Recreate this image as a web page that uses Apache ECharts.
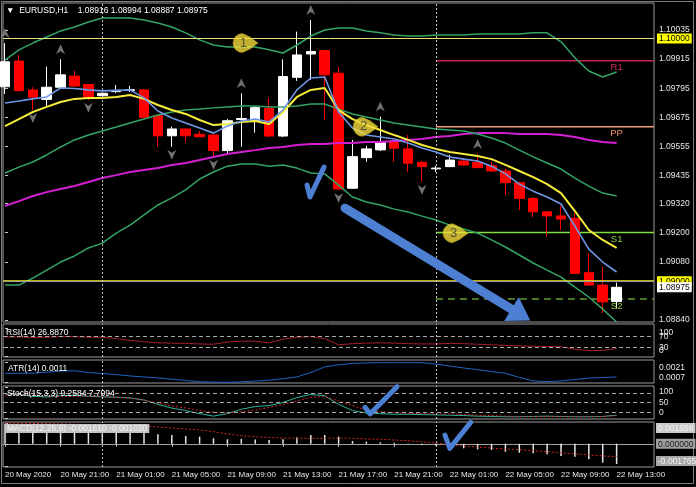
<!DOCTYPE html>
<html><head><meta charset="utf-8">
<script src="https://cdn.jsdelivr.net/npm/echarts@6/dist/echarts.min.js"></script>
<style>html,body{margin:0;padding:0;background:#000;}#c{width:696px;height:487px;}</style>
</head><body><div id="c"></div>
<script>
// ---------------- data ----------------
const symbolName = 'EURUSD,H1';
const timeLabels = ['20 May 2020','20 May 21:00','21 May 01:00','21 May 05:00','21 May 09:00','21 May 13:00','21 May 17:00','21 May 21:00','22 May 01:00','22 May 05:00','22 May 09:00','22 May 13:00'];
const timeLabelIndex = [0,4,8,12,16,20,24,28,32,36,40,44];

const open  = [1.09801,1.09907,1.09788,1.09749,1.09799,1.09845,1.09810,1.09764,1.09781,1.09786,1.09788,1.09682,1.09599,1.09627,1.09605,1.09602,1.09538,1.09666,1.09661,1.09712,1.09598,1.09840,1.09936,1.09950,1.09857,1.09383,1.09509,1.09541,1.09575,1.09545,1.09490,1.09463,1.09472,1.09495,1.09490,1.09476,1.09454,1.09406,1.09341,1.09286,1.09269,1.09259,1.09035,1.08984,1.08916];
const high  = [1.09981,1.09932,1.09799,1.09884,1.09914,1.09867,1.09812,1.09775,1.09808,1.09804,1.09792,1.09685,1.09637,1.09631,1.09619,1.09606,1.09668,1.09774,1.09722,1.09756,1.09914,1.10028,1.10076,1.09953,1.09884,1.09582,1.09557,1.09678,1.09578,1.09602,1.09495,1.09475,1.09520,1.09508,1.09524,1.09492,1.09462,1.09409,1.09347,1.09289,1.09310,1.09281,1.09115,1.09060,1.08994];
const low   = [1.09771,1.09780,1.09705,1.09722,1.09796,1.09800,1.09747,1.09763,1.09775,1.09780,1.09672,1.09554,1.09554,1.09575,1.09594,1.09513,1.09520,1.09554,1.09612,1.09594,1.09594,1.09825,1.09829,1.09664,1.09376,1.09380,1.09492,1.09536,1.09492,1.09451,1.09410,1.09450,1.09470,1.09475,1.09466,1.09450,1.09355,1.09293,1.09263,1.09181,1.09211,1.09030,1.08980,1.08868,1.08887];
const close = [1.09904,1.09785,1.09758,1.09799,1.09850,1.09804,1.09758,1.09774,1.09784,1.09789,1.09675,1.09599,1.09627,1.09599,1.09595,1.09538,1.09661,1.09670,1.09715,1.09598,1.09843,1.09932,1.09946,1.09850,1.09380,1.09513,1.09545,1.09575,1.09548,1.09486,1.09472,1.09466,1.09499,1.09479,1.09468,1.09454,1.09406,1.09341,1.09286,1.09269,1.09256,1.09032,1.08984,1.08915,1.08975];

const maFast = [1.09734,1.09742,1.09751,1.09759,1.09796,1.09794,1.09788,1.09784,1.09786,1.09788,1.09755,1.09701,1.09672,1.09652,1.09631,1.09610,1.09639,1.09660,1.09668,1.09656,1.09705,1.09788,1.09837,1.09841,1.09697,1.09631,1.09602,1.09594,1.09586,1.09569,1.09549,1.09532,1.09512,1.09503,1.09495,1.09474,1.09442,1.09400,1.09371,1.09347,1.09318,1.09227,1.09132,1.09079,1.09038];
const maSlow = [1.09639,1.09668,1.09697,1.09718,1.09738,1.09751,1.09755,1.09755,1.09759,1.09767,1.09751,1.09726,1.09705,1.09689,1.09664,1.09643,1.09648,1.09656,1.09660,1.09648,1.09697,1.09759,1.09788,1.09796,1.09705,1.09668,1.09643,1.09623,1.09602,1.09582,1.09561,1.09545,1.09532,1.09524,1.09516,1.09503,1.09479,1.09454,1.09429,1.09400,1.09363,1.09289,1.09211,1.09170,1.09137];
const bbUpper = [1.09911,1.09953,1.09981,1.10006,1.10031,1.10047,1.10068,1.10084,1.10084,1.10084,1.10076,1.10064,1.10047,1.10023,1.09994,1.09973,1.09965,1.09965,1.09965,1.09953,1.09940,1.09973,1.10010,1.10035,1.10043,1.10043,1.10031,1.10023,1.10014,1.10010,1.10010,1.10014,1.10014,1.10014,1.10018,1.10018,1.10018,1.10018,1.10023,1.10023,1.09986,1.09920,1.09866,1.09841,1.09862];
const bbMiddle = [1.09446,1.09470,1.09491,1.09520,1.09553,1.09582,1.09602,1.09619,1.09635,1.09652,1.09668,1.09685,1.09697,1.09705,1.09709,1.09714,1.09718,1.09722,1.09722,1.09718,1.09718,1.09722,1.09730,1.09730,1.09709,1.09689,1.09676,1.09664,1.09652,1.09643,1.09635,1.09627,1.09623,1.09619,1.09606,1.09590,1.09569,1.09540,1.09512,1.09487,1.09462,1.09425,1.09392,1.09363,1.09351];
const bbLower = [1.08984,1.08984,1.09013,1.09046,1.09079,1.09104,1.09137,1.09157,1.09198,1.09231,1.09273,1.09314,1.09343,1.09376,1.09421,1.09450,1.09474,1.09483,1.09483,1.09474,1.09479,1.09466,1.09446,1.09442,1.09396,1.09347,1.09326,1.09314,1.09297,1.09285,1.09268,1.09252,1.09231,1.09215,1.09198,1.09170,1.09141,1.09108,1.09075,1.09046,1.09017,1.08976,1.08935,1.08885,1.08832];
const maLong = [1.09310,1.09330,1.09351,1.09367,1.09380,1.09392,1.09409,1.09425,1.09437,1.09450,1.09458,1.09466,1.09479,1.09487,1.09499,1.09512,1.09524,1.09532,1.09540,1.09549,1.09553,1.09561,1.09565,1.09565,1.09569,1.09569,1.09573,1.09573,1.09578,1.09582,1.09586,1.09594,1.09598,1.09606,1.09610,1.09610,1.09610,1.09606,1.09606,1.09606,1.09602,1.09594,1.09582,1.09573,1.09569];

const rsi = [68,68,66,67,69,69,67,67,62,56,51,47,46,45,43,42,50,53,53,47,60,67,69,62,40,44,46,47,46,44,43,43,45,44,42,40,38,36,35,34,33,24,19,20,26.887];
const atr = [0.00134,0.00134,0.00135,0.00142,0.0015,0.00152,0.0014,0.00133,0.00125,0.00115,0.00108,0.00101,0.00092,0.00083,0.00074,0.00071,0.0007,0.00073,0.00079,0.00085,0.00095,0.00108,0.0014,0.0018,0.00195,0.00205,0.00208,0.0021,0.0021,0.0021,0.0021,0.002,0.00186,0.00172,0.0016,0.00147,0.00134,0.00105,0.0008,0.00074,0.0008,0.0009,0.001,0.00104,0.00108];
const stochMain = [78,76,70,68,72,73,70,68,67,65,58,44,32,24,14,6,14,28,37,40,50,66,76,72,44,24,16,14,12,12,11,10,9,8,6,5,4,4,5,6,5,4,4,5,9.2584];
const stochSignal = [74,75,74,71,70,70,71,70,67,64,58,48,39,32,24,18,17,20,26,34,44,55,67,69,55,40,26,20,17,15,14,13,13,11,9,8,6,5,5,5,5,5,5,5,7.7094];
const macdMain = [0.0016,0.00155,0.00148,0.00142,0.0014,0.00136,0.00128,0.0012,0.00112,0.00104,0.0009,0.00076,0.0007,0.00062,0.00057,0.00044,0.00036,0.00038,0.00034,0.0003,0.00036,0.00052,0.0007,0.0007,0.00057,0.00022,0.00017,0.00012,0.00009,-0.00002,-0.0001,-0.00015,-0.00023,-0.00036,-0.00044,-0.00049,-0.00063,-0.00071,-0.00076,-0.00084,-0.00097,-0.00103,-0.00123,-0.0015,-0.00161];
const macdSignal = [0.00165,0.00164,0.00162,0.0016,0.00158,0.00156,0.00153,0.0015,0.00148,0.00145,0.00142,0.00134,0.00126,0.00118,0.0011,0.00097,0.00078,0.00065,0.00056,0.0005,0.00046,0.00044,0.00044,0.00044,0.00045,0.00044,0.00038,0.00036,0.0003,0.00025,0.00016,0.00006,-0.00008,-0.00018,-0.00026,-0.00034,-0.00042,-0.00046,-0.00055,-0.00063,-0.00072,-0.00081,-0.00088,-0.00096,-0.00102];

const fractalUpIdx = [0,4,17,22,27,34];
const fractalDownIdx = [2,6,12,15,24,30];

const pivotNames = ['R1','PP','S1','S2'];
const pivotValues = [1.09908,1.09636,1.09201,1.08927];
const pivotStart = 31;
const roundLevels = [1.10000,1.09000];
const daySeparators = [7,31];

const priceTicks = [1.10035,1.09915,1.09795,1.09675,1.09555,1.09435,1.09320,1.09200,1.09080,1.08840];
const rsiTicks = [100,70,30,0];
const rsiLevels = [70,30];
const atrTicks = [0.0021,0.0007];
const stochTicks = [100,50,0];
const stochLevels = [80,50,20];
const macdTicks = [0.001658,0,-0.001765];

const calloutLabels = ['1','2','3'];
const calloutIdx = [17.30,25.94,32.41];
const calloutPrice = [1.09981,1.09636,1.09198];
const trendArrow = [[24.46,1.09301],[37.05,1.08864]];
const checkMain = [[21.73,1.09396],[21.94,1.09347],[22.95,1.09470]];
const checkStoch = [[25.9,34.5],[26.26,13],[28.2,101]];
const checkMacd = [[31.65,0.0007],[32.0,-0.00036],[33.5,0.00171]];

// ---------------- chart ----------------
const FONT = "'Liberation Sans', Arial, 'DejaVu Sans', sans-serif";
const XMIN = -0.144, XMAX = 46.69;
const last = close.length - 1;
const lastClose = close[last];
const pts = arr => arr.map((v, i) => [i, v]);
const near = (a, b) => Math.abs(a - b) < 1e-9;

const gridDefs = [[3,319],[324,33],[360,23],[386,33],[422,45]];
const grid = gridDefs.map(g => ({left:3, right:42, top:g[0], height:g[1], show:true, borderColor:'#9a9a9a', borderWidth:1, backgroundColor:'transparent', outerBoundsMode:'none', containLabel:false}));

const xAxis = gridDefs.map((g, k) => ({gridIndex:k, type:'value', min:XMIN, max:XMAX,
  axisLine:{show:false}, axisTick:{show:false}, axisLabel:{show:false}, splitLine:{show:false}}));
Object.assign(xAxis[4], {
  axisLine:{show:true, lineStyle:{color:'#a0a0a0'}},
  axisTick:{show:true, customValues:timeLabelIndex, length:3, lineStyle:{color:'#d0d0d0'}},
  axisLabel:{show:true, customValues:timeLabelIndex, align:'left', margin:4, color:'#e8e8e8', fontSize:8, fontFamily:FONT, hideOverlap:false,
    formatter: v => timeLabels[timeLabelIndex.indexOf(Math.round(v))]}
});

const lblBase = {color:'#e6e6e6', fontSize:8.5, fontFamily:FONT, margin:5, lineHeight:10, hideOverlap:false};
function yAx(k, min, max, ticks, labels, fmt, extra) {
  return {gridIndex:k, type:'value', position:'right', offset:0, min:min, max:max,
    axisLine:{show:false}, splitLine:{show:false},
    axisTick:{show: ticks.length > 0, customValues:ticks, length:3, lineStyle:{color:'#c8c8c8'}},
    axisLabel:Object.assign({customValues:labels, formatter:fmt}, lblBase, extra || {})};
}
const shiftFmt = (digits, maxV, minV) => v => {
  const s = v.toFixed(digits);
  if (near(v, maxV)) return '\n' + s;
  if (near(v, minV)) return s + '\n';
  return s;
};
const PMIN = 1.08832, PMAX = 1.10146;
const priceRich = {
  n:{color:'#e6e6e6', fontSize:8.5, fontFamily:FONT, padding:[0,2]},
  y:{color:'#000', backgroundColor:'#ffff00', fontSize:8.5, fontFamily:FONT, padding:[1,2,0,2]},
  w:{color:'#000', backgroundColor:'#ffffff', fontSize:8.5, fontFamily:FONT, padding:[1,2,0,2]}
};
const priceFmt = v => {
  const s = v.toFixed(5);
  if (roundLevels.some(l => near(l, v))) return '{y|' + s + '}';
  if (near(v, lastClose)) return '{w|' + s + '}';
  return '{n|' + s + '}';
};
const yAxis = [
  yAx(0, PMIN, PMAX, priceTicks, priceTicks.concat(roundLevels), priceFmt, {margin:3, rich:priceRich, lineHeight:null}),
  yAx(1, -3.57, 114.3, rsiTicks, [70,30], shiftFmt(0, 100, 0)),
  yAx(2, 0.00065, 0.00229, atrTicks, [0.0007], shiftFmt(4, 0.0021, 0.0007)),
  yAx(3, -3.2, 103.2, stochTicks, stochTicks, shiftFmt(0, 100, 0)),
  yAx(4, -0.001847, 0.001735, macdTicks, macdTicks, v => {
      const s = v.toFixed(6);
      if (v > 0) return '\n{a|' + s + '}';
      if (v < 0) return '{c|' + s + '}\n';
      return '{b|' + s + '}';
    }, {margin:2, rich:{
      a:{color:'#f4f4f4', backgroundColor:'#c8c8c8', fontSize:8.5, fontFamily:FONT, padding:[1,2,0,2], lineHeight:10},
      b:{color:'#202020', backgroundColor:'#a0a0a0', fontSize:8.5, fontFamily:FONT, padding:[1,2,0,2], lineHeight:10},
      c:{color:'#f4f4f4', backgroundColor:'#a8a8a8', fontSize:8.5, fontFamily:FONT, padding:[1,2,0,2], lineHeight:10}
    }}),
  // label-only axes: labels that overlap neighbours are kept on separate axes
  yAx(0, PMIN, PMAX, [], [lastClose], priceFmt, {margin:3, rich:priceRich, lineHeight:null}),
  yAx(1, -3.57, 114.3, [], [100,0], shiftFmt(0, 100, 0)),
  yAx(2, 0.00065, 0.00229, [], [0.0021], shiftFmt(4, 0.0021, 0.0007))
];

const sepStyle = {color:'#c4c4c4', type:[2,2], width:1};
const sepLines = () => daySeparators.map(x => ({xAxis:x, lineStyle:sepStyle}));
const lvlStyle = {color:'#a8a8a8', type:[4,3], width:1};
const mlBase = {silent:true, symbol:'none', label:{show:false}, animation:false, emphasis:{disabled:true}};

function line(k, data, color, width, extra) {
  return Object.assign({type:'line', xAxisIndex:k, yAxisIndex:k, data:pts(data), symbol:'none', showSymbol:false,
    lineStyle:{color:color, width:width}, silent:true, z:3, animation:false}, extra || {});
}

const BLUE = '#4d7fd3';
const calloutPath = 'path://M9.5,0 A9.5,9.5 0 1 0 9.5,19 L17,15.5 L25,9.5 L17,3.5 Z';
const upArrow = 'path://M5,0 L10,10 L5,7 L0,10 Z';
const downArrow = 'path://M0,0 L5,3 L10,0 L5,10 Z';

// trend arrow drawn through the axes' scales (api.coord)
function renderTrendArrow(params, api) {
  const p0 = api.coord(trendArrow[0]);
  const p1 = api.coord(trendArrow[1]);
  const dx = p1[0] - p0[0], dy = p1[1] - p0[1];
  const len = Math.sqrt(dx * dx + dy * dy);
  const ux = dx / len, uy = dy / len, nx = -uy, ny = ux;
  const tip = [p1[0] + ux * 12, p1[1] + uy * 12];
  const bc = [p1[0] - ux * 10, p1[1] - uy * 10];
  return {type:'group', children:[
    {type:'line', shape:{x1:p0[0], y1:p0[1], x2:bc[0], y2:bc[1]},
     style:{stroke:BLUE, lineWidth:9, lineCap:'round'}},
    {type:'polygon', shape:{points:[tip, [bc[0] + nx * 14, bc[1] + ny * 14], [bc[0] - nx * 14, bc[1] - ny * 14]]},
     style:{fill:BLUE}}
  ]};
}

const series = [
  line(0, maLong, '#d41fd4', 2, {z:3, markLine:Object.assign({}, mlBase, {data:[
      {yAxis:roundLevels[0], lineStyle:{color:'#e6e27a', width:1, type:'solid'}},
      {yAxis:roundLevels[1], lineStyle:{color:'#f2ee1a', width:1.5, type:'solid'}},
      {yAxis:lastClose, lineStyle:{color:'#9a9a9a', width:1, type:'solid'}}
    ].concat(sepLines())})}),
  line(0, bbUpper, '#33a466', 1.5),
  line(0, bbMiddle, '#33a466', 1.5),
  line(0, bbLower, '#33a466', 1.5),
];
const pivotColors = ['#c8225a','#f2a07e','#84e03c','#5f9e2e'];
const pivotTextColors = ['#d0305c','#ee9466','#8fd046','#8fd046'];
pivotNames.forEach((nm, k) => {
  series.push({type:'line', xAxisIndex:0, yAxisIndex:0, data:[[pivotStart, pivotValues[k]],[XMAX, pivotValues[k]]],
    symbol:'none', silent:true, z:2, animation:false,
    lineStyle:{color:pivotColors[k], width:1.5, type: nm === 'S2' ? [7,5] : 'solid'},
    markPoint:{silent:true, symbolSize:0, animation:false, data:[{coord:[last, pivotValues[k]], value:nm}],
      label:{show:true, formatter:nm, color:pivotTextColors[k], fontSize:9.5, fontFamily:FONT, offset:[0,7]}}});
});
series.push(
  {type:'candlestick', xAxisIndex:0, yAxisIndex:0, z:2, silent:true, animation:false, barWidth:10,
   data: open.map((o, i) => [i, o, close[i], low[i], high[i]]), encode:{x:0, y:[1,2,3,4]},
   itemStyle:{color:'#ffffff', color0:'#ff0000', borderColor:'#ffffff', borderColor0:'#ff0000', borderWidth:1}},
  line(0, maSlow, '#f7ee3a', 2, {z:4}),
  line(0, maFast, '#6e98e6', 1.6, {z:5}),
  {type:'scatter', xAxisIndex:0, yAxisIndex:0, silent:true, animation:false, z:4,
   data: fractalUpIdx.map(i => [i, high[i]]), symbol:upArrow, symbolSize:[9,10], symbolOffset:[0,-10],
   itemStyle:{color:'#8c8c8c'}},
  {type:'scatter', xAxisIndex:0, yAxisIndex:0, silent:true, animation:false, z:4,
   data: fractalDownIdx.map(i => [i, low[i]]), symbol:downArrow, symbolSize:[9,10], symbolOffset:[0,8],
   itemStyle:{color:'#8c8c8c'}},
  {type:'scatter', xAxisIndex:0, yAxisIndex:0, silent:true, animation:false, z:10,
   data: calloutIdx.map((x, k) => [x, calloutPrice[k]]), symbol:calloutPath, symbolSize:[25,19],
   itemStyle:{color:'#f4dc3c', borderColor:'#caa91c', borderWidth:0.6},
   label:{show:true, position:'inside', offset:[-2,0], formatter:p => calloutLabels[p.dataIndex], color:'#3a3a3a', fontSize:13, fontFamily:FONT}},
  {type:'custom', xAxisIndex:0, yAxisIndex:0, silent:true, animation:false, z:9, clip:true,
   data:[trendArrow[1]], renderItem:renderTrendArrow},
  line(0, [], BLUE, 5, {data:checkMain, z:11, lineStyle:{color:BLUE, width:5, cap:'round', join:'round'}}),

  line(1, rsi, '#a81e30', 1, {markLine:Object.assign({}, mlBase, {data:rsiLevels.map(v => ({yAxis:v, lineStyle:lvlStyle})).concat(sepLines())})}),
  line(2, atr, '#2163c4', 1, {markLine:Object.assign({}, mlBase, {data:sepLines()})}),
  line(3, stochMain, '#2fb49c', 1, {markLine:Object.assign({}, mlBase, {data:stochLevels.map(v => ({yAxis:v, lineStyle:lvlStyle})).concat(sepLines())})}),
  line(3, stochSignal, '#d42828', 1, {lineStyle:{color:'#d42828', width:1, type:[2,2]}}),
  line(3, [], BLUE, 5, {data:checkStoch, z:11, lineStyle:{color:BLUE, width:5, cap:'round', join:'round'}}),
  {type:'bar', xAxisIndex:4, yAxisIndex:4, data:pts(macdMain), barWidth:1.5, silent:true, animation:false,
   itemStyle:{color:'#e6e6e6'}, markLine:Object.assign({}, mlBase, {data:sepLines()})},
  line(4, macdSignal, '#d42828', 1, {lineStyle:{color:'#d42828', width:1, type:[2,2]}}),
  line(4, [], BLUE, 5, {data:checkMacd, z:11, lineStyle:{color:BLUE, width:5, cap:'round', join:'round'}})
);

const tStyle = {color:'#ffffff', fontSize:8.5, fontWeight:'normal', fontFamily:FONT};
const ohlcText = [open[last], high[last], low[last], close[last]].map(v => v.toFixed(5)).join(' ');
const option = {
  backgroundColor:'#000',
  animation:false,
  title:[
    {text:'\u25BC  ' + symbolName + '    ' + ohlcText, left:6, top:6, padding:0, textStyle:tStyle},
    {text:'RSI(14) ' + rsi[last].toFixed(4), left:6, top:328, padding:0, textStyle:tStyle},
    {text:'ATR(14) ' + atr[last].toFixed(4), left:8, top:364, padding:0, textStyle:tStyle},
    {text:'Stoch(15,3,3) ' + stochMain[last].toFixed(4) + ' ' + stochSignal[last].toFixed(4), left:7, top:389, padding:0, textStyle:tStyle},
    {text:'MACD(12,26,9) ' + macdMain[last].toFixed(6) + ' ' + macdSignal[last].toFixed(6), left:5, top:424, padding:[0,2],
     backgroundColor:'#c4c4c4', textStyle:Object.assign({}, tStyle, {color:'#f4f4f4'})}
  ],
  graphic:[{type:'rect', silent:true, z:-1, shape:{x:1.5, y:1.5, width:692, height:482}, style:{fill:'none', stroke:'#7c7c7c', lineWidth:1}}],
  grid:grid, xAxis:xAxis, yAxis:yAxis, series:series
};
const chart = echarts.init(document.getElementById('c'), null, {renderer:'canvas', width:696, height:487});
chart.setOption(option);
</script>
</body></html>
